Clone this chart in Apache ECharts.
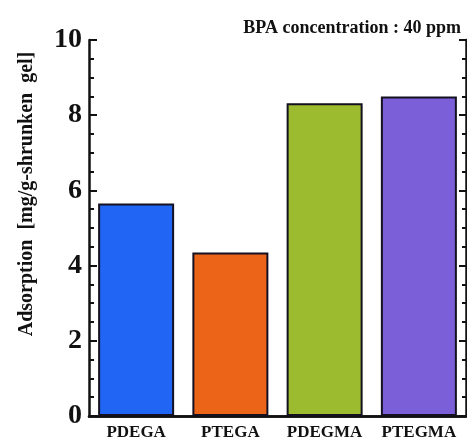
<!DOCTYPE html>
<html>
<head>
<meta charset="utf-8">
<script src="https://cdn.jsdelivr.net/npm/echarts@6/dist/echarts.min.js"></script>
<style>html,body{margin:0;padding:0;background:#fff}#c{width:467px;height:441px}</style>
</head>
<body>
<div id="c"></div>
<script>
const categories = ['PDEGA', 'PTEGA', 'PDEGMA', 'PTEGMA'];
const adsorption = [5.65, 4.35, 8.32, 8.5];
const barColors = ['#2165f4', '#ec6418', '#9dbb2e', '#7b5fd9'];
const yTicks = [0, 2, 4, 6, 8, 10];
const titleText = 'BPA concentration : 40 ppm';
const yName = 'Adsorption  [mg/g-shrunken  gel]';

const FONT = '"Liberation Serif", "DejaVu Serif", serif';
const chart = echarts.init(document.getElementById('c'), null, {renderer: 'canvas'});
const axisCol = '#111';
chart.setOption({
  animation: false,
  backgroundColor: '#fff',
  title: {
    text: titleText, right: 1, top: 14,
    textStyle: {fontFamily: FONT, fontWeight: 'bold', fontSize: 18, color: '#111'}
  },
  graphic: [{
    type: 'text', x: 27, y: 194, rotation: Math.PI / 2,
    style: {text: yName, fontFamily: FONT, fontWeight: 'bold', fontSize: 20, fill: '#111',
      align: 'center', verticalAlign: 'middle'}
  }],
  grid: {left: 89, right: 1, top: 40, bottom: 24, containLabel: false},
  xAxis: [{
    type: 'category', data: categories, position: 'bottom',
    axisLine: {lineStyle: {color: axisCol, width: 2.5}},
    axisTick: {show: false},
    axisLabel: {interval: 0, fontFamily: FONT, fontWeight: 'bold', fontSize: 17, color: '#111', margin: 8}
  }, {
    type: 'category', data: categories, position: 'top',
    axisLine: {show: true, lineStyle: {color: axisCol, width: 2.5}},
    axisTick: {show: false}, axisLabel: {show: false}
  }],
  yAxis: [{
    type: 'value', min: 0, max: 10, interval: 2, position: 'left',
    axisLine: {show: true, lineStyle: {color: axisCol, width: 2.5}},
    axisTick: {show: true, inside: true, length: 8, lineStyle: {color: axisCol, width: 2}},
    minorTick: {show: true, splitNumber: 4, length: 5, lineStyle: {color: axisCol, width: 2}},
    splitLine: {show: false},
    axisLabel: {
      fontFamily: FONT, fontWeight: 'bold', fontSize: 28, color: '#111', margin: 7,
      formatter: v => yTicks.includes(v) ? String(v) : ''
    }
  }, {
    type: 'value', min: 0, max: 10, interval: 2, position: 'right',
    axisLine: {show: true, lineStyle: {color: axisCol, width: 2.5}},
    axisTick: {show: true, inside: true, length: 7, lineStyle: {color: axisCol, width: 2}},
    minorTick: {show: true, splitNumber: 4, length: 4, lineStyle: {color: axisCol, width: 2}},
    splitLine: {show: false},
    axisLabel: {show: false}
  }],
  series: [{
    type: 'bar', xAxisIndex: 0, yAxisIndex: 0,
    data: adsorption.map((v, i) => ({value: v, itemStyle: {color: barColors[i]}})),
    barWidth: 76,
    itemStyle: {borderColor: '#151020', borderWidth: 2}
  }]
});
</script>
</body>
</html>
